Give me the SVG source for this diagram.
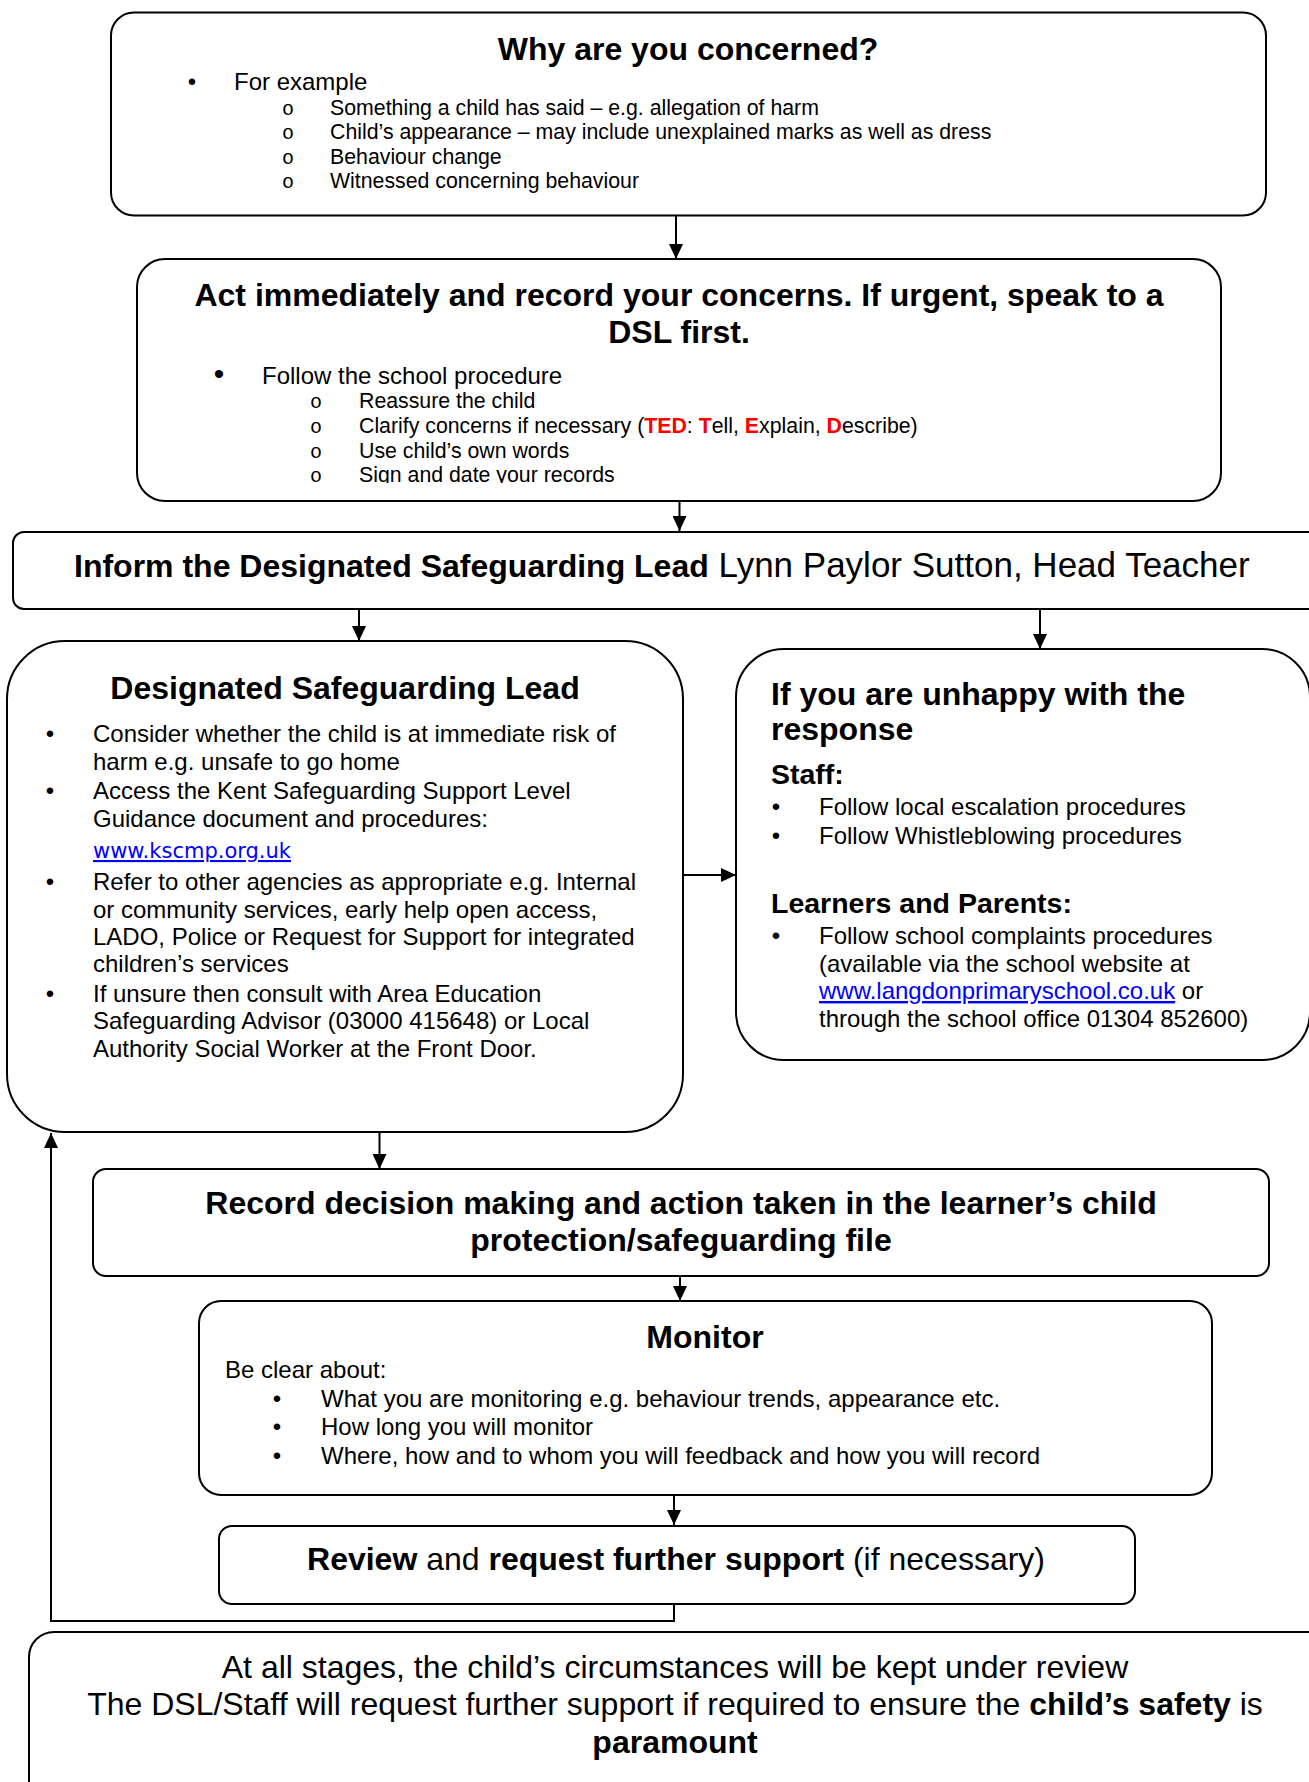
<svg xmlns="http://www.w3.org/2000/svg" width="1309" height="1782" viewBox="0 0 1309 1782">
<style>
.box{fill:#fff;stroke:#000;stroke-width:2}
.conn{fill:none;stroke:#000;stroke-width:2}
text{font-family:"Liberation Sans",Arial,sans-serif;fill:#000}
.h{font-size:32px;font-weight:bold}
.m{font-size:24px}
.s{font-size:21.3px}
.sub{font-size:28.5px;font-weight:bold}
.o{font-family:"Liberation Mono","Courier New",monospace;font-size:20px}
.red{fill:#ff0000;font-weight:bold}
.link{fill:#0000ff;text-decoration:underline}
.bd{font-weight:bold}
</style>
<defs>
<marker id="arr" markerUnits="userSpaceOnUse" viewBox="0 0 15 14" refX="15" refY="7" markerWidth="15" markerHeight="14" orient="auto">
<path d="M0,0 L15,7 L0,14 z" fill="#000"/>
</marker>
<clipPath id="clip2"><rect x="130" y="255" width="1100" height="228"/></clipPath>
</defs>

<g id="connectors">
<path class="conn" d="M676,216 V259" marker-end="url(#arr)"/>
<path class="conn" d="M679.5,501 V531" marker-end="url(#arr)"/>
<path class="conn" d="M359,609 V641" marker-end="url(#arr)"/>
<path class="conn" d="M1040,609 V649" marker-end="url(#arr)"/>
<path class="conn" d="M683,875 H736" marker-end="url(#arr)"/>
<path class="conn" d="M379.5,1132 V1169" marker-end="url(#arr)"/>
<path class="conn" d="M680,1276 V1301" marker-end="url(#arr)"/>
<path class="conn" d="M674,1495 V1525" marker-end="url(#arr)"/>
<path class="conn" d="M674,1603 V1621 H51 V1133" marker-end="url(#arr)"/>
</g>

<g id="concerned">
<rect class="box" x="111" y="12.5" width="1155" height="203" rx="23"/>
<text class="h" x="688" y="60" text-anchor="middle">Why are you concerned?</text>
<text class="m" x="192" y="90" text-anchor="middle">•</text>
<text class="m" x="234" y="90">For example</text>
<text class="o" x="288" y="114.5" text-anchor="middle">o</text>
<text class="s" x="330" y="114.5">Something a child has said – e.g. allegation of harm</text>
<text class="o" x="288" y="139" text-anchor="middle">o</text>
<text class="s" x="330" y="139">Child’s appearance – may include unexplained marks as well as dress</text>
<text class="o" x="288" y="163.5" text-anchor="middle">o</text>
<text class="s" x="330" y="163.5">Behaviour change</text>
<text class="o" x="288" y="188" text-anchor="middle">o</text>
<text class="s" x="330" y="188">Witnessed concerning behaviour</text>
</g>

<g id="act">
<rect class="box" x="137" y="259" width="1084" height="242" rx="28"/>
<text class="h" x="679" y="306" text-anchor="middle">Act immediately and record your concerns. If urgent, speak to a</text>
<text class="h" x="679" y="343" text-anchor="middle">DSL first.</text>
<g clip-path="url(#clip2)">
<text class="m" x="219" y="384" text-anchor="middle" style="font-size:30px">•</text>
<text class="m" x="262" y="384">Follow the school procedure</text>
<text class="o" x="316" y="408" text-anchor="middle">o</text>
<text class="s" x="359" y="408">Reassure the child</text>
<text class="o" x="316" y="433" text-anchor="middle">o</text>
<text class="s" x="359" y="433">Clarify concerns if necessary (<tspan class="red">TED</tspan>: <tspan class="red">T</tspan>ell, <tspan class="red">E</tspan>xplain, <tspan class="red">D</tspan>escribe)</text>
<text class="o" x="316" y="458" text-anchor="middle">o</text>
<text class="s" x="359" y="458">Use child’s own words</text>
<text class="o" x="316" y="482" text-anchor="middle">o</text>
<text class="s" x="359" y="482">Sign and date your records</text>
</g>
</g>

<g id="inform">
<rect class="box" x="13" y="532" width="1320" height="77" rx="11"/>
<text x="74" y="577"><tspan class="h">Inform the Designated Safeguarding Lead</tspan><tspan style="font-size:35px"> Lynn Paylor Sutton, Head Teacher</tspan></text>
</g>

<g id="dsl">
<rect class="box" x="7" y="641" width="676" height="491" rx="58"/>
<text class="h" x="345" y="699" text-anchor="middle">Designated Safeguarding Lead</text>
<text class="m" x="50" y="742" text-anchor="middle">•</text>
<text class="m" x="93" y="742">Consider whether the child is at immediate risk of</text>
<text class="m" x="93" y="770">harm e.g. unsafe to go home</text>
<text class="m" x="50" y="799" text-anchor="middle">•</text>
<text class="m" x="93" y="799">Access the Kent Safeguarding Support Level</text>
<text class="m" x="93" y="827">Guidance document and procedures:</text>
<text class="link" x="93" y="858" style="font-family:'DejaVu Sans',Verdana,sans-serif;font-size:21px">www.kscmp.org.uk</text>
<text class="m" x="50" y="890" text-anchor="middle">•</text>
<text class="m" x="93" y="890">Refer to other agencies as appropriate e.g. Internal</text>
<text class="m" x="93" y="918">or community services, early help open access,</text>
<text class="m" x="93" y="945">LADO, Police or Request for Support for integrated</text>
<text class="m" x="93" y="972">children’s services</text>
<text class="m" x="50" y="1002" text-anchor="middle">•</text>
<text class="m" x="93" y="1002">If unsure then consult with Area Education</text>
<text class="m" x="93" y="1029">Safeguarding Advisor (03000 415648) or Local</text>
<text class="m" x="93" y="1057">Authority Social Worker at the Front Door.</text>
</g>

<g id="unhappy">
<rect class="box" x="736" y="649" width="574" height="411" rx="48"/>
<text class="h" x="771" y="705">If you are unhappy with the</text>
<text class="h" x="771" y="740">response</text>
<text class="sub" x="771" y="784">Staff:</text>
<text class="m" x="776" y="815" text-anchor="middle">•</text>
<text class="m" x="819" y="815">Follow local escalation procedures</text>
<text class="m" x="776" y="844" text-anchor="middle">•</text>
<text class="m" x="819" y="844">Follow Whistleblowing procedures</text>
<text class="sub" x="771" y="913">Learners and Parents:</text>
<text class="m" x="776" y="944" text-anchor="middle">•</text>
<text class="m" x="819" y="944">Follow school complaints procedures</text>
<text class="m" x="819" y="972">(available via the school website at</text>
<text class="m" x="819" y="999"><tspan class="link">www.langdonprimaryschool.co.uk</tspan> or</text>
<text class="m" x="819" y="1027">through the school office 01304 852600)</text>
</g>

<g id="record">
<rect class="box" x="93" y="1169" width="1176" height="107" rx="13"/>
<text class="h" x="681" y="1214" text-anchor="middle">Record decision making and action taken in the learner’s child</text>
<text class="h" x="681" y="1251" text-anchor="middle">protection/safeguarding file</text>
</g>

<g id="monitor">
<rect class="box" x="199" y="1301" width="1013" height="194" rx="22"/>
<text class="h" x="705" y="1348" text-anchor="middle">Monitor</text>
<text class="m" x="225" y="1378">Be clear about:</text>
<text class="m" x="277" y="1407" text-anchor="middle">•</text>
<text class="m" x="321" y="1407">What you are monitoring e.g. behaviour trends, appearance etc.</text>
<text class="m" x="277" y="1435" text-anchor="middle">•</text>
<text class="m" x="321" y="1435">How long you will monitor</text>
<text class="m" x="277" y="1464" text-anchor="middle">•</text>
<text class="m" x="321" y="1464">Where, how and to whom you will feedback and how you will record</text>
</g>

<g id="review">
<rect class="box" x="219" y="1526" width="916" height="78" rx="13"/>
<text x="676" y="1570" text-anchor="middle" style="font-size:32px"><tspan class="bd">Review</tspan> and <tspan class="bd">request further support</tspan> (if necessary)</text>
</g>

<g id="stages">
<rect class="box" x="29" y="1632" width="1320" height="200" rx="25"/>
<text x="675" y="1678" text-anchor="middle" style="font-size:32px">At all stages, the child’s circumstances will be kept under review</text>
<text x="675" y="1715" text-anchor="middle" style="font-size:32px">The DSL/Staff will request further support if required to ensure the <tspan class="bd">child’s safety</tspan> is</text>
<text x="675" y="1753" text-anchor="middle" style="font-size:32px" class="bd">paramount</text>
</g>
</svg>
